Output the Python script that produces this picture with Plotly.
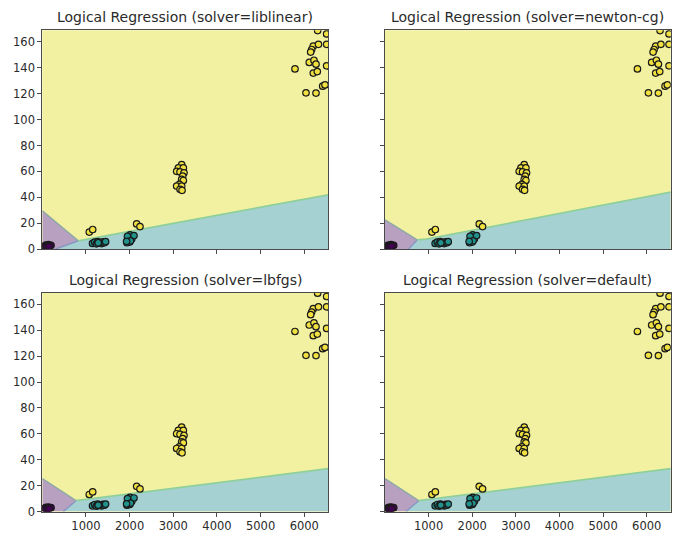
import plotly.graph_objects as go

# ---------------- data ----------------
solvers = ["liblinear", "newton-cg", "lbfgs", "default"]

# class 0 (purple)
x_c0 = [50, 80, 110, 140, 170, 200, 95, 150]
y_c0 = [2.5, 3.2, 2.0, 3.5, 2.8, 3.0, 1.8, 2.2]
# class 1 (teal)
x_c1 = [1150, 1200, 1240, 1270, 1300, 1330, 1360, 1390, 1420, 1450, 1280,
        1940, 1960, 1980, 2000, 2010, 2050, 2100, 1950, 2020, 1930]
y_c1 = [4.5, 5.5, 4.2, 5.8, 4.8, 5.2, 4.4, 5.6, 5.0, 5.8, 5.0,
        5.0, 7.0, 9.5, 5.5, 11.0, 8.0, 10.5, 10.0, 6.5, 6.0]
# class 2 (yellow)
x_c2 = [1076, 1154, 2161, 2237,
        3192, 3116, 3230, 3077, 3154, 3245, 3215, 3192, 3230, 3139, 3077, 3192, 3154, 3200,
        6306, 6512, 6206, 6325, 6169, 6146, 6512, 5787, 6114, 6222, 6268, 6206, 6298, 6512,
        6039, 6268, 6421, 6474]
y_c2 = [13.2, 15.2, 19.5, 17.5,
        65.2, 62.7, 62.7, 60.1, 59.6, 58.9, 56.3, 53.8, 53.0, 50.0, 48.7, 48.7, 46.2, 45.4,
        168.6, 166.0, 156.6, 158.0, 154.0, 152.0, 158.0, 139.0, 144.0, 145.7, 142.7, 135.8,
        137.0, 141.4, 120.6, 120.4, 125.7, 126.7]

# decision regions (per solver)
purple_x = [[0, 0, 824, 290], [0, 0, 740, 535], [0, 0, 771, 481], [0, 0, 771, 481]]
purple_y = [[0, 29.7, 6.5, 0], [0, 22.7, 7.3, 0], [0, 25.5, 8.4, 0], [0, 25.5, 8.4, 0]]
teal_x = [[290, 824, 6550, 6550], [535, 740, 950, 6550, 6550],
          [481, 771, 6550, 6550], [481, 771, 6550, 6550]]
teal_y = [[0, 6.5, 42.0, 0], [0, 7.3, 7.8, 44.0, 0],
          [0, 8.4, 33.1, 0], [0, 8.4, 33.1, 0]]

x_range = [0, 6550]
y_range = [0, 168.8]
x_ticks = [1000, 2000, 3000, 4000, 5000, 6000]
y_ticks = [0, 20, 40, 60, 80, 100, 120, 140, 160]

# ---------------- style ----------------
W, H = 681, 542
FONT = "DejaVu Sans"
C_YEL_BG = "#f2f1a2"
C_TEAL_BG = "#a6d1d3"
C_PUR_BG = "#b7a0c0"
C_LINE_YT = "#8fd09a"
C_LINE_PT = "#8a96c2"
C_LINE_PY = "#8fa9a6"

x_dom = [[42.3 / W, 328.3 / W], [385 / W, 670.7 / W]]
y_dom = [[1 - 252.5 / H, 1 - 30.7 / H], [1 - 518.3 / H, 1 - 296.7 / H]]

fig = go.Figure()
annotations = []
layout_axes = {}

for i, solver in enumerate(solvers):
    row, col = divmod(i, 2)
    ax = "" if i == 0 else str(i + 1)
    xa, ya = "x" + ax, "y" + ax

    fig.add_trace(go.Scatter(x=purple_x[i], y=purple_y[i], fill="toself",
                             fillcolor=C_PUR_BG, mode="lines", line=dict(width=0),
                             xaxis=xa, yaxis=ya, hoverinfo="skip", showlegend=False))
    fig.add_trace(go.Scatter(x=teal_x[i], y=teal_y[i], fill="toself",
                             fillcolor=C_TEAL_BG, mode="lines", line=dict(width=0),
                             xaxis=xa, yaxis=ya, hoverinfo="skip", showlegend=False))
    fig.add_trace(go.Scatter(x=purple_x[i][1:3], y=purple_y[i][1:3], mode="lines",
                             line=dict(color=C_LINE_PY, width=1.5),
                             xaxis=xa, yaxis=ya, hoverinfo="skip", showlegend=False))
    fig.add_trace(go.Scatter(x=purple_x[i][2:4], y=purple_y[i][2:4], mode="lines",
                             line=dict(color=C_LINE_PT, width=1.5),
                             xaxis=xa, yaxis=ya, hoverinfo="skip", showlegend=False))
    fig.add_trace(go.Scatter(x=teal_x[i][1:-1], y=teal_y[i][1:-1], mode="lines",
                             line=dict(color=C_LINE_YT, width=1.8),
                             xaxis=xa, yaxis=ya, hoverinfo="skip", showlegend=False))
    for xs, ys, c in [(x_c0, y_c0, "#440154"), (x_c1, y_c1, "#21918c"), (x_c2, y_c2, "#f0e040")]:
        fig.add_trace(go.Scatter(x=xs, y=ys, mode="markers",
                                 marker=dict(size=6.5, color=c, line=dict(color="#1a1a1a", width=1.2)),
                                 xaxis=xa, yaxis=ya, cliponaxis=True, showlegend=False))

    common = dict(showline=True, mirror=True, linecolor="#4a4a4a", linewidth=1,
                  ticks="outside", ticklen=4, tickwidth=1, tickcolor="#4a4a4a",
                  showgrid=False, zeroline=False,
                  tickfont=dict(family=FONT, size=11.5, color="#2a2a2a"))
    layout_axes["xaxis" + ax] = dict(domain=x_dom[col], range=x_range, tickvals=x_ticks,
                                     showticklabels=(row == 1), anchor=ya, **common)
    layout_axes["yaxis" + ax] = dict(domain=y_dom[row], range=y_range, tickvals=y_ticks,
                                     showticklabels=(col == 0), anchor=xa, **common)

    annotations.append(dict(text="Logical Regression (solver=%s)" % solver,
                            xref="paper", yref="paper",
                            x=(x_dom[col][0] + x_dom[col][1]) / 2, y=y_dom[row][1],
                            xanchor="center", yanchor="bottom", yshift=3, showarrow=False,
                            font=dict(family=FONT, size=14, color="#2a2a2a")))

fig.update_layout(width=W, height=H, margin=dict(l=0, r=0, t=0, b=0),
                  paper_bgcolor="white", plot_bgcolor=C_YEL_BG,
                  annotations=annotations, showlegend=False, **layout_axes)

fig.write_html("out.html")
